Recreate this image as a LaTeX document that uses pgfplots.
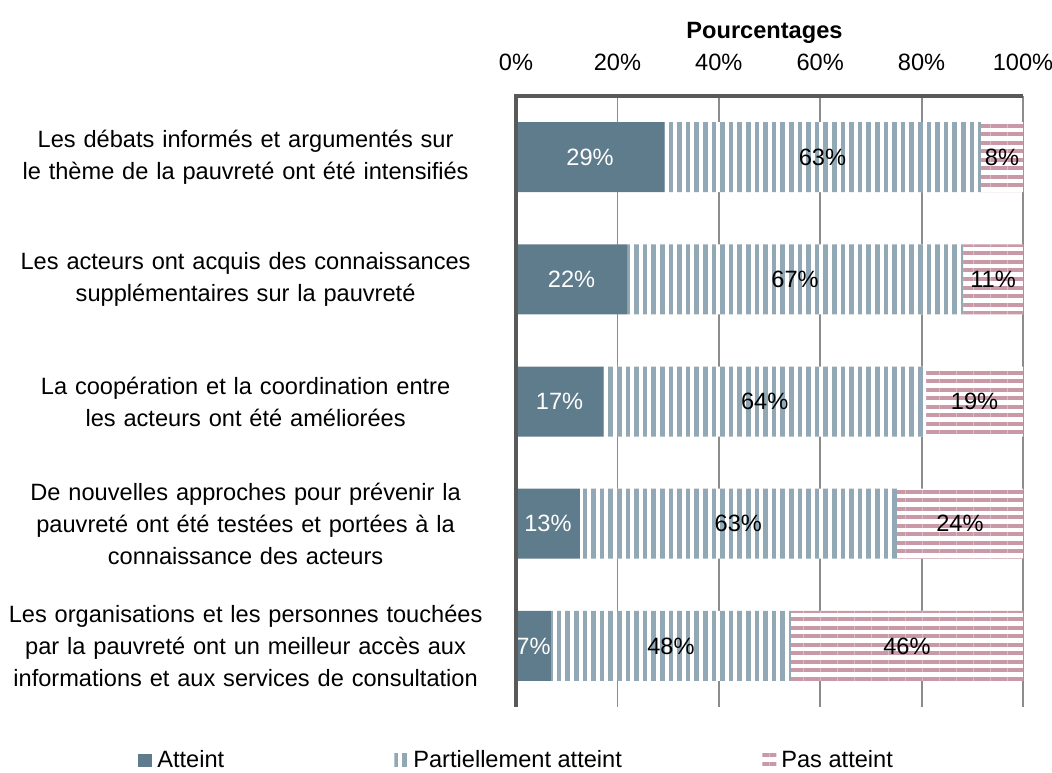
\documentclass[border=0pt]{standalone}
\usepackage{fontspec}
\setmainfont{Liberation Sans}
\usepackage{pgfplots}
\pgfplotsset{compat=1.18}
\usepackage{pgfplotstable}
\usetikzlibrary{patterns.meta}

\definecolor{cA}{HTML}{5F7C8C}
\definecolor{cB}{HTML}{92A8B4}
\definecolor{cC}{HTML}{C999A8}
\definecolor{axgray}{HTML}{595959}
\definecolor{gridgray}{HTML}{8C8C8C}

% bar segment lengths (percent)
\pgfplotstableread{
y a b c
0 29.2 62.5 8.3
1 21.9 66.3 11.8
2 17.2 63.7 19.1
3 12.6 62.5 24.9
4 6.9 47.3 45.8
}\data
% label positions (segment centres) and printed values
\pgfplotstableread{
y ma mb mc la lb lc
0 14.6 60.45 95.85 29 63 8
1 10.95 55.05 94.1 22 67 11
2 8.6 49.05 90.45 17 64 19
3 6.3 43.85 87.55 13 63 24
4 3.45 30.55 77.1 7 48 46
}\labels

\begin{document}
\begin{tikzpicture}[font=\fontsize{11.8}{16}\selectfont]
\begin{axis}[
  scale only axis, width=253.5pt, height=305.5pt,
  xbar stacked, bar width=35pt,
  xmin=0, xmax=100, ymin=-0.5, ymax=4.5, y dir=reverse,
  axis x line=top, axis y line=left,
  axis line style={draw=none},
  xtick={0,20,40,60,80,100},
  xticklabels={0\%,20\%,40\%,60\%,80\%,100\%},
  xticklabel style={anchor=center, yshift=17pt},
  ytick={0,1,2,3,4},
  yticklabels={
    {Les débats informés et argumentés sur\\le thème de la pauvreté ont été intensifiés},
    {Les acteurs ont acquis des connaissances\\supplémentaires sur la pauvreté},
    {La coopération et la coordination entre\\les acteurs ont été améliorées},
    {De nouvelles approches pour prévenir la\\pauvreté ont été testées et portées à la\\connaissance des acteurs},
    {Les organisations et les personnes touchées\\par la pauvreté ont un meilleur accès aux\\informations et aux services de consultation}},
  yticklabel style={text width=250pt, align=center, inner sep=0pt, anchor=east, xshift=-10pt},
  major tick length=0pt,
  xmajorgrids, grid style={gridgray, line width=0.9pt},
  xlabel={\textbf{Pourcentages}},
  xlabel style={at={(axis description cs:0.5,1)}, anchor=center, yshift=31.5pt, xshift=-2.5pt},
  legend columns=3,
  legend style={at={(axis description cs:-0.7456,-0.087)}, anchor=west,
    draw=none, fill=none, inner sep=0pt, font=\fontsize{11.8}{14}\selectfont,
    nodes={inner sep=0pt},
    /tikz/every even column/.append style={column sep=0pt}},
  legend image code/.code={\fill[#1] (0pt,-3.25pt) rectangle (7pt,3.25pt);},
]
\addplot[fill=cA, draw=none] table[x=a, y=y]{\data};
\addlegendentry{\makebox[121pt][l]{\hspace{2.5pt}Atteint}}
\addplot[fill=white, draw=none,
  postaction={pattern={Lines[angle=90,distance=4.3pt,line width=2.3pt]}, pattern color=cB}]
  table[x=b, y=y]{\data};
\addlegendentry{\makebox[177pt][l]{\hspace{2.5pt}Partiellement atteint}}
\addplot[fill=white, draw=none,
  postaction={pattern={Lines[angle=0,distance=4.25pt,line width=2pt]}, pattern color=cC}]
  table[x=c, y=y]{\data};
\addlegendentry{\hspace{2.5pt}Pas atteint}
\end{axis}
\begin{axis}[
  scale only axis, width=253.5pt, height=305.5pt,
  xmin=0, xmax=100, ymin=-0.5, ymax=4.5, y dir=reverse,
  hide axis, clip=false,
  point meta=explicit symbolic,
  nodes near coords={\pgfplotspointmeta\%},
  nodes near coords align=center,
  every node near coord/.append style={anchor=center, inner sep=0pt},
]
\addplot[draw=none, mark=none, every node near coord/.append style={text=white}]
  table[x=ma, y=y, meta=la]{\labels};
\addplot[draw=none, mark=none, every node near coord/.append style={text=black}]
  table[x=mb, y=y, meta=lb]{\labels};
\addplot[draw=none, mark=none, every node near coord/.append style={text=black}]
  table[x=mc, y=y, meta=lc]{\labels};
\end{axis}
\draw[axgray, line width=2.3pt] (current axis.south west) -- (current axis.north west) -- (current axis.north east);
\pgfresetboundingbox
\path[use as bounding box] (current axis.north west) ++(-258pt,48pt) rectangle ++(526pt,-386pt);
\end{tikzpicture}
\end{document}
